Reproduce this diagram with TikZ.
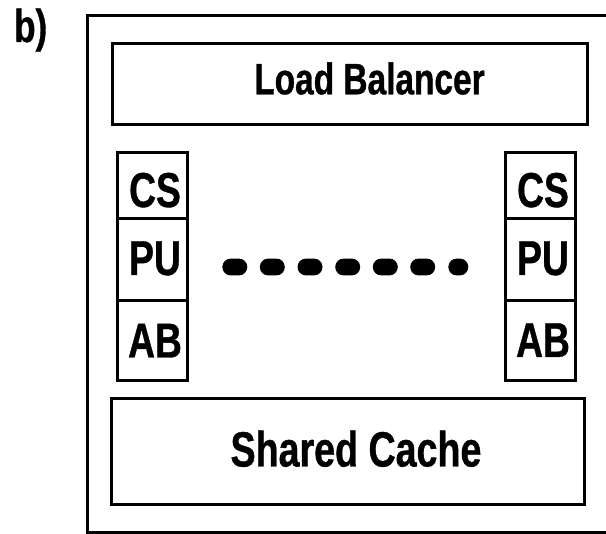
\documentclass[tikz,border=0pt]{standalone}
\usepackage{fontspec}
\setmainfont{Liberation Sans}[FakeStretch=0.76,FakeBold=0.8]
\begin{document}
\begin{tikzpicture}[x=1pt,y=-1pt,
  box/.style={draw=black, line width=3pt, rectangle, inner sep=0pt, outer sep=0pt},
  lbl/.style={anchor=base, inner sep=0pt, font=\bfseries\fontsize{49}{55}\selectfont},
  dot/.style={fill=black}]
\useasboundingbox (0,0) rectangle (606,534);
\clip (0,0) rectangle (606,534);
% label
\node[anchor=base west, inner sep=0pt, font=\bfseries\fontsize{46}{52}\selectfont] (tag) at (14,42) {b)};
% outer container
\node[box, minimum width=553pt, minimum height=517pt] (outer) at (363.5,274.5) {};
% load balancer
\node[box, minimum width=475pt, minimum height=81pt] (lb) at (349.5,84.5) {};
\node[lbl, font=\bfseries\fontsize{44}{50}\selectfont] (lbt) at (369.5,94.3) {Load Balancer};
% shared cache
\node[box, minimum width=473pt, minimum height=106pt] (sc) at (347.5,452) {};
\node[lbl, font=\bfseries\fontsize{49.5}{55}\selectfont] (sct) at (356,466.5) {Shared Cache};
% left column
\node[box, minimum width=70pt, minimum height=66pt] (cs1) at (152,186) {};
\node[box, minimum width=70pt, minimum height=82pt] (pu1) at (152,260) {};
\node[box, minimum width=70pt, minimum height=80pt] (ab1) at (152,341) {};
\node[lbl] (cs1t) at (155,207) {CS};
\node[lbl] (pu1t) at (155,275) {PU};
\node[lbl] (ab1t) at (155,357.5) {AB};
% right column
\node[box, minimum width=70pt, minimum height=66pt] (cs2) at (540,186) {};
\node[box, minimum width=70pt, minimum height=82pt] (pu2) at (540,260) {};
\node[box, minimum width=70pt, minimum height=80pt] (ab2) at (540,341) {};
\node[lbl] (cs2t) at (543,207) {CS};
\node[lbl] (pu2t) at (543,275) {PU};
\node[lbl] (ab2t) at (543,357) {AB};
% dots
\foreach \cx in {234.8,272.3,310,347.7,385.3,422.7} {
  \fill[dot, rounded corners=8.4pt] (\cx-12.5,258.6) rectangle (\cx+12.5,275.4);
}
\fill[dot, rounded corners=8.4pt] (448.3,258.6) rectangle (468.3,275.4);
\end{tikzpicture}
\end{document}
